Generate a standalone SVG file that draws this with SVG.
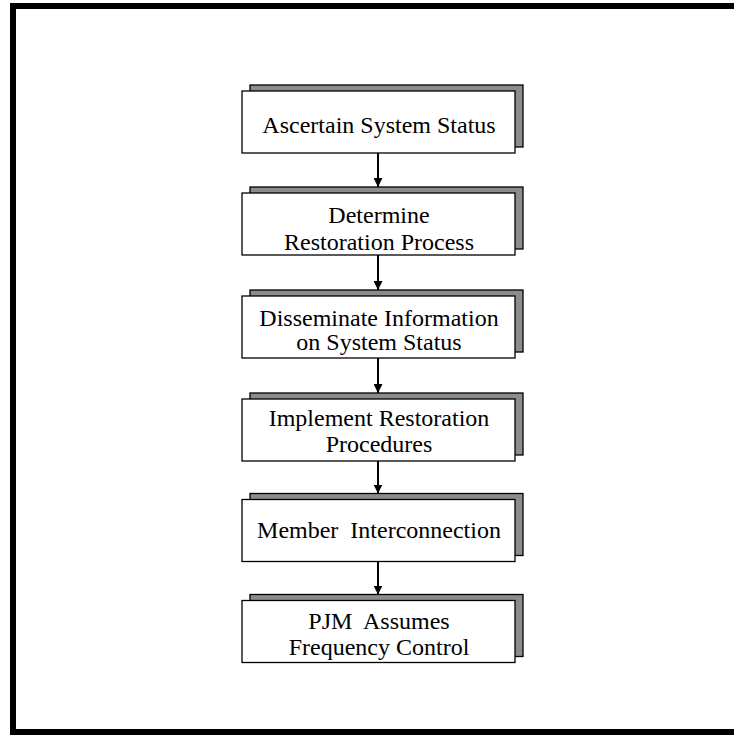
<svg xmlns="http://www.w3.org/2000/svg" width="734" height="736" viewBox="0 0 734 736">
<defs>
<style>
.shadow{fill:#8c8c8c;stroke:#000;stroke-width:1.3}
.box{fill:#fff;stroke:#000;stroke-width:1.3}
.lbl{font-family:"Liberation Serif","Times New Roman",serif;font-size:24px;fill:#000;text-anchor:middle}
.conn{stroke:#000;stroke-width:2;fill:none}
</style>
<marker id="ah" markerWidth="9" markerHeight="9" refX="9" refY="4.5" orient="auto" markerUnits="userSpaceOnUse">
<path d="M0,0 L9,4.5 L0,9 Z" fill="#000"/>
</marker>
</defs>
<rect x="0" y="0" width="734" height="736" fill="#fff"/>
<rect id="frame" x="13" y="6" width="800" height="726" fill="none" stroke="#000" stroke-width="6"/>

<g id="n1">
<rect class="shadow" x="250" y="85" width="273" height="62"/>
<rect class="box" x="242" y="91" width="273" height="62"/>
<text class="lbl" x="379" y="132.5">Ascertain System Status</text>
</g>
<g id="n2">
<rect class="shadow" x="250" y="187" width="273" height="62"/>
<rect class="box" x="242" y="193" width="273" height="62"/>
<text class="lbl" x="379" y="222.5">Determine</text>
<text class="lbl" x="379" y="249.5">Restoration Process</text>
</g>
<g id="n3">
<rect class="shadow" x="250" y="290" width="273" height="62"/>
<rect class="box" x="242" y="296" width="273" height="62"/>
<text class="lbl" x="379" y="325.5">Disseminate Information</text>
<text class="lbl" x="379" y="349.5">on System Status</text>
</g>
<g id="n4">
<rect class="shadow" x="250" y="393" width="273" height="62"/>
<rect class="box" x="242" y="399" width="273" height="62"/>
<text class="lbl" x="379" y="425.5">Implement Restoration</text>
<text class="lbl" x="379" y="451.5">Procedures</text>
</g>
<g id="n5">
<rect class="shadow" x="250" y="493.5" width="273" height="62"/>
<rect class="box" x="242" y="499.5" width="273" height="62"/>
<text class="lbl" x="379" y="537.5" xml:space="preserve">Member  Interconnection</text>
</g>
<g id="n6">
<rect class="shadow" x="250" y="594.5" width="273" height="62"/>
<rect class="box" x="242" y="600.5" width="273" height="62"/>
<text class="lbl" x="379" y="629" xml:space="preserve">PJM  Assumes</text>
<text class="lbl" x="379" y="654.5">Frequency Control</text>
</g>

<g id="connectors">
<line class="conn" x1="378" y1="153" x2="378" y2="187" marker-end="url(#ah)"/>
<line class="conn" x1="378" y1="255" x2="378" y2="290" marker-end="url(#ah)"/>
<line class="conn" x1="378" y1="358" x2="378" y2="393" marker-end="url(#ah)"/>
<line class="conn" x1="378" y1="461" x2="378" y2="493.5" marker-end="url(#ah)"/>
<line class="conn" x1="378" y1="561.5" x2="378" y2="594.5" marker-end="url(#ah)"/>
</g>
</svg>
